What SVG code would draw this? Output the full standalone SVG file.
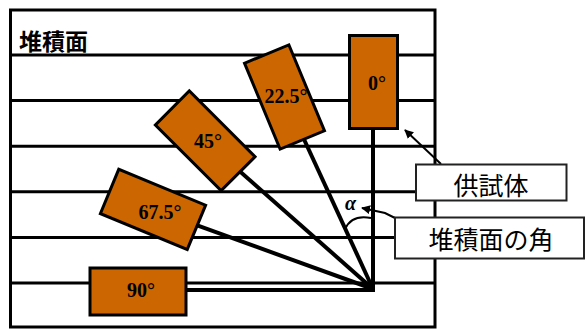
<svg xmlns="http://www.w3.org/2000/svg" width="585" height="329" viewBox="0 0 585 329">
  <style>
    .frame{fill:none;stroke:#000;stroke-width:3}
    .layer{stroke:#000;stroke-width:3}
    .ray{stroke:#000;stroke-width:4;fill:none}
    .spec{fill:#CC6600;stroke:#000;stroke-width:3}
    .deg{font-family:"Liberation Serif","Times New Roman",serif;font-weight:bold;font-size:20px;fill:#000;text-anchor:middle}
    .lbl{fill:#fff;stroke:#222;stroke-width:2}
    .jp{font-family:"Noto Sans CJK JP","Noto Sans CJK SC",sans-serif;font-size:25px;fill:#000;text-anchor:middle}
    .pt{stroke:#000;stroke-width:2;fill:none}
  </style>
  <defs>
    <marker id="ah" viewBox="0 0 10 10" refX="9" refY="5" markerWidth="9" markerHeight="9" markerUnits="userSpaceOnUse" orient="auto">
      <path d="M0,0 L10,5 L0,10 z" fill="#000"/>
    </marker>
  </defs>

  <g id="background">
    <rect class="frame" x="10.5" y="10" width="424.5" height="317"/>
    <line class="layer" x1="10" y1="55" x2="435" y2="55"/>
    <line class="layer" x1="10" y1="100.6" x2="435" y2="100.6"/>
    <line class="layer" x1="10" y1="146.2" x2="435" y2="146.2"/>
    <line class="layer" x1="10" y1="191.8" x2="435" y2="191.8"/>
    <line class="layer" x1="10" y1="237.4" x2="435" y2="237.4"/>
    <line class="layer" x1="10" y1="283" x2="435" y2="283"/>
    <text x="19" y="50" font-family="'Noto Sans CJK JP','Noto Sans CJK SC',sans-serif" font-weight="bold" font-size="23" fill="#000">堆積面</text>
  </g>

  <g id="connectors">
    <line class="ray" x1="373" y1="291" x2="373" y2="82"/>
    <line class="ray" x1="373" y1="289" x2="284.5" y2="97"/>
    <line class="ray" x1="373" y1="289" x2="205.2" y2="140.8"/>
    <line class="ray" x1="373" y1="289" x2="153" y2="209.4"/>
    <line class="ray" x1="375" y1="290" x2="138" y2="290"/>
    <path class="pt" d="M345 229 Q352 214 371 218"/>
    <line class="pt" x1="441" y1="164" x2="405" y2="130" marker-end="url(#ah)"/>
    <polyline class="pt" points="395,218 385,213 362,208" marker-end="url(#ah)"/>
  </g>

  <g id="spec-0">
    <rect class="spec" x="-24" y="-46.5" width="48" height="93" transform="translate(373.5 82)"/>
    <text class="deg" x="377" y="90">0°</text>
  </g>
  <g id="spec-22-5">
    <rect class="spec" x="-24" y="-46.5" width="48" height="93" transform="translate(284.5 97) rotate(-22.5)"/>
    <text class="deg" x="286" y="103">22.5°</text>
  </g>
  <g id="spec-45">
    <rect class="spec" x="-24" y="-46.5" width="48" height="93" transform="translate(205.2 140.8) rotate(-45)"/>
    <text class="deg" x="208" y="148">45°</text>
  </g>
  <g id="spec-67-5">
    <rect class="spec" x="-24" y="-47" width="48" height="94" transform="translate(153 209.4) rotate(-67.5)"/>
    <text class="deg" x="160" y="219">67.5°</text>
  </g>
  <g id="spec-90">
    <rect class="spec" x="-23.5" y="-48" width="47" height="96" transform="translate(138 291.5) rotate(-90)"/>
    <text class="deg" x="141" y="297">90°</text>
  </g>

  <g id="alpha">
    <text x="345" y="210" font-family="'Liberation Serif','Times New Roman',serif" font-weight="bold" font-style="italic" font-size="20" fill="#000">α</text>
  </g>

  <g id="label-specimen">
    <rect class="lbl" x="416" y="164.5" width="150.5" height="36"/>
    <text class="jp" x="491" y="195">供試体</text>
  </g>
  <g id="label-angle">
    <rect class="lbl" x="395" y="217.5" width="189" height="41"/>
    <text class="jp" x="491" y="249">堆積面の角</text>
  </g>
</svg>
